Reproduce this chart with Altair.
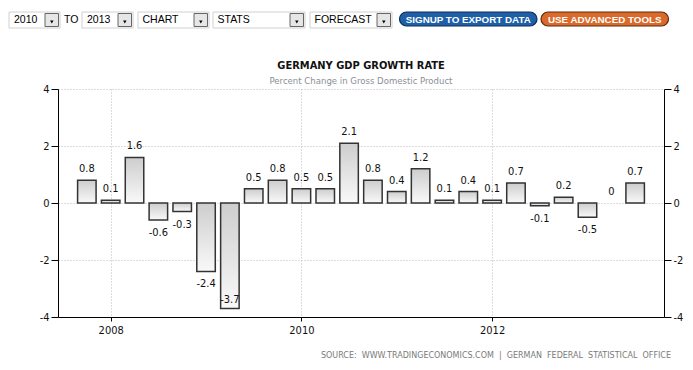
import altair as alt
import pandas as pd

# ---- data ----
quarters = ["2007Q4",
            "2008Q1", "2008Q2", "2008Q3", "2008Q4",
            "2009Q1", "2009Q2", "2009Q3", "2009Q4",
            "2010Q1", "2010Q2", "2010Q3", "2010Q4",
            "2011Q1", "2011Q2", "2011Q3", "2011Q4",
            "2012Q1", "2012Q2", "2012Q3", "2012Q4",
            "2013Q1", "2013Q2", "2013Q3"]
growth = [0.8, 0.1, 1.6, -0.6, -0.3, -2.4, -3.7, 0.5,
          0.8, 0.5, 0.5, 2.1, 0.8, 0.4, 1.2, 0.1,
          0.4, 0.1, 0.7, -0.1, 0.2, -0.5, 0, 0.7]
x_ticks = [2008, 2010, 2012]
y_ticks = [-4, -2, 0, 2, 4]
x_domain = [2007.5, 2013.75]
y_domain = [-4, 4]

title_text = "GERMANY GDP GROWTH RATE"
subtitle_text = "Percent Change in Gross Domestic Product"
source_text = ("SOURCE:\u00a0\u00a0WWW.TRADINGECONOMICS.COM\u00a0\u00a0|\u00a0\u00a0GERMAN"
               "\u00a0\u00a0FEDERAL\u00a0\u00a0STATISTICAL\u00a0\u00a0OFFICE")

dropdowns = ["2010", "2013", "CHART", "STATS", "FORECAST"]
buttons = ["SIGNUP TO EXPORT DATA", "USE ADVANCED TOOLS"]

df = pd.DataFrame({"q": quarters, "v": growth})
df["t"] = df["q"].str[:4].astype(int) + (df["q"].str[-1].astype(int) - 1) / 4.0
df["lbl"] = [f"{v:g}" for v in growth]

# ---- layout ----
W, H = 606, 228
PL, PT = 50, 81
OX, OY = 8 + PL, 8 + PT  # page coords of plot origin

NUM_FONT = "DejaVu Sans Condensed, DejaVu Sans"
UI_FONT = "Liberation Sans, Arial"
TITLE_FONT = "DejaVu Sans Condensed, DejaVu Sans"

def px(x):
    return x - OX

def py(y):
    return y - OY

grad = alt.Gradient(
    gradient="linear",
    stops=[alt.GradientStop(color="#cdcdcd", offset=0),
           alt.GradientStop(color="#f9f9f9", offset=1)],
    x1=0, x2=0, y1=0, y2=1)

x_enc = alt.X("t:Q", scale=alt.Scale(domain=x_domain, nice=False, zero=False),
              axis=alt.Axis(values=x_ticks, format="d", title=None, grid=True,
                            gridDash=[1, 2], gridColor="#bbbbbb",
                            domainColor="#000", tickColor="#000", tickSize=4,
                            labelPadding=3, labelFont=NUM_FONT, labelFontSize=11,
                            labelColor="#111"))

y_scale = alt.Scale(domain=y_domain, nice=False)

bars = alt.Chart(df).transform_filter("datum.v != 0").mark_bar(
    width=18.5, stroke="#333333", strokeWidth=1.5, color=grad
).encode(
    x=x_enc,
    y=alt.Y("v:Q", scale=y_scale,
            axis=alt.Axis(values=y_ticks, orient="left", title=None, grid=True,
                          gridDash=[1, 2], gridColor="#bbbbbb",
                          domainColor="#000", tickColor="#000", tickSize=7,
                          labelPadding=2, labelFont=NUM_FONT, labelFontSize=11,
                          labelColor="#111", labelExpr="'' + datum.value")),
)

pos_lbl = alt.Chart(df).transform_filter("datum.v >= 0").mark_text(
    dy=-11, baseline="middle", font=NUM_FONT, fontSize=11, color="#111"
).encode(
    x=x_enc,
    y=alt.Y("v:Q", scale=y_scale,
            axis=alt.Axis(values=y_ticks, orient="right", title=None, grid=False,
                          domainColor="#000", tickColor="#000", tickSize=7,
                          labelPadding=2, labelFont=NUM_FONT, labelFontSize=11,
                          labelColor="#111", labelExpr="'' + datum.value")),
    text="lbl:N",
)

neg_lbl = alt.Chart(df).transform_filter("datum.v < 0 && datum.v > -3").mark_text(
    dy=13, baseline="middle", font=NUM_FONT, fontSize=11, color="#111"
).encode(x=x_enc, y=alt.Y("v:Q", scale=y_scale, axis=None), text="lbl:N")

deep_lbl = alt.Chart(df).transform_filter("datum.v <= -3").mark_text(
    dy=-8, baseline="middle", font=NUM_FONT, fontSize=11, color="#111"
).encode(x=x_enc, y=alt.Y("v:Q", scale=y_scale, axis=None), text="lbl:N")

one = alt.Data(values=[{}])

def text_layer(txt, x, y, **kw):
    return alt.Chart(one).mark_text(text=txt, **kw).encode(
        x=alt.value(px(x)), y=alt.value(py(y)))

def rect_layer(x1, x2, y1, y2, **kw):
    return alt.Chart(one).mark_rect(**kw).encode(
        x=alt.value(px(x1)), x2=alt.value(px(x2)),
        y=alt.value(py(y1)), y2=alt.value(py(y2)))

deco = []
# title, subtitle, source
deco.append(text_layer(title_text, OX + W / 2, 66, font=TITLE_FONT, fontSize=11,
                       fontWeight="bold", color="#111", align="center", baseline="middle"))
deco.append(text_layer(subtitle_text, OX + W / 2, 81, font=TITLE_FONT, fontSize=9.5,
                       color="#8a8f96", align="center", baseline="middle"))
deco.append(text_layer(source_text, 671, 356, font="DejaVu Sans", fontSize=8,
                       color="#7a7a7a", align="right", baseline="middle"))

# toolbar dropdowns
boxes = [(9, 60, 14), (82, 133, 87), (138, 209, 142.5), (213, 305, 217.5), (310, 392, 314.5)]
for (bx1, bx2, tx), label in zip(boxes, dropdowns):
    deco.append(rect_layer(bx1, bx2, 12, 28, fill="#ffffff", stroke="#d0d0d0", strokeWidth=1))
    deco.append(rect_layer(bx2 - 15, bx2 - 1.5, 13.5, 26.5, fill="#e6e6e6",
                           stroke="#666666", strokeWidth=1))
    deco.append(alt.Chart(one).mark_point(shape="triangle-down", filled=True, size=12,
                                          color="#000", opacity=1).encode(
        x=alt.value(px(bx2 - 8.2)), y=alt.value(py(22))))
    deco.append(text_layer(label, tx, 20, font=UI_FONT, fontSize=10.5, color="#000",
                           align="left", baseline="middle"))
deco.append(text_layer("TO", 64, 20, font=UI_FONT, fontSize=10.5, color="#000",
                       align="left", baseline="middle"))

# buttons
btn_geo = [(399.5, 537, "#1e5fa8", "#0c2f58"), (541, 668.5, "#d96a2b", "#5e2a0a")]
for (bx1, bx2, fill, stroke), label in zip(btn_geo, buttons):
    deco.append(rect_layer(bx1, bx2, 12, 26, fill=fill, stroke=stroke, strokeWidth=1.2,
                           cornerRadius=7))
    deco.append(text_layer(label, (bx1 + bx2) / 2, 19.5,
                           font="Liberation Sans, Arial", fontSize=9.8,
                           fontWeight="bold", color="#ffffff", align="center",
                           baseline="middle"))

chart = alt.layer(bars, pos_lbl, neg_lbl, deep_lbl, *deco).resolve_axis(
    y="independent"
).properties(
    width=W, height=H,
    autosize=alt.AutoSizeParams(type="none"),
    padding={"left": PL, "top": PT, "right": 677 - PL - W, "bottom": 354 - PT - H},
    background="#ffffff",
).configure_view(stroke=None)

chart.save("out.html", embed_options={"renderer": "svg", "actions": False})
